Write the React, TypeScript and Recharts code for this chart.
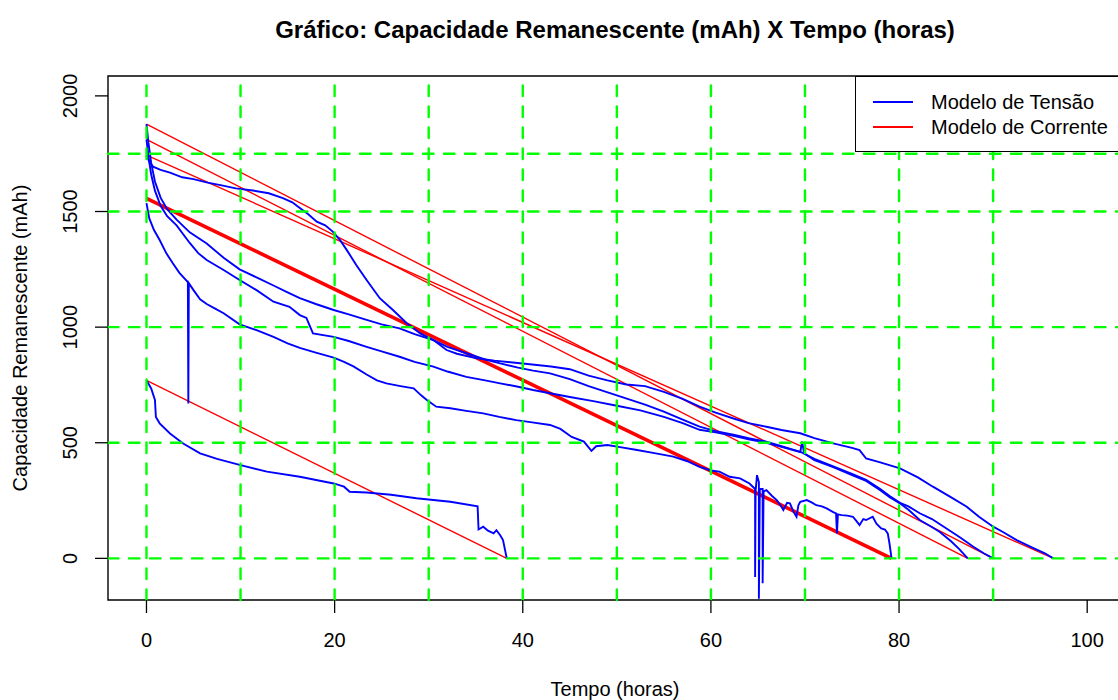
import { LineChart, Line, XAxis, YAxis, ReferenceLine, ReferenceArea, Legend } from 'recharts'

const FONT = '"Liberation Sans", Arial, Helvetica, sans-serif'

// axis ranges (R style: 4% padding around the data)
const X_MIN = -4.09
const X_MAX = 103.7
const Y_MIN = -180
const Y_MAX = 2086

const xTicks = [0, 20, 40, 60, 80, 100]
const yTicks = [0, 500, 1000, 1500, 2000]
const gridX = [0, 10, 20, 30, 40, 50, 60, 70, 80, 90]
const gridY = [0, 500, 1000, 1500, 1750]

// Modelo de Tensão -- [tempo (h), capacidade (mAh)]
const tensao1: [number, number][] = [
  [0, 1744], [0.3, 1715], [0.7, 1694], [1.5, 1680], [2.5, 1668], [3.8, 1648], [5, 1640], [6.5, 1625],
  [8, 1613], [9.5, 1600], [11.3, 1591], [13, 1579], [14.5, 1558], [15.5, 1540], [16.3, 1515], [17.2, 1488],
  [18.1, 1456], [19, 1440], [19.8, 1413], [20.6, 1375], [21.3, 1333], [22.3, 1269], [23.4, 1204], [24.8, 1125],
  [26.2, 1074], [27.7, 1016], [29.1, 973], [30.5, 944], [31.9, 901], [33, 885], [35, 866], [37, 855],
  [40, 843], [43, 830], [45, 818], [47, 790], [49, 770], [51, 752], [53, 745], [55, 720], [57, 690],
  [58.8, 656], [60.5, 630], [62.4, 605], [64, 585], [65.9, 569], [67.5, 555], [69.5, 541], [71, 520],
  [73, 497], [75, 478], [75.8, 468], [76.5, 432], [78, 415], [80.1, 389], [82, 350], [83.6, 310],
  [85.5, 265], [87.2, 223], [88.5, 180], [90, 137], [91, 115], [92.5, 79], [94, 50], [95.5, 22], [96.4, 0],
]

const tensao2: [number, number][] = [
  [0, 1878], [0.2, 1800], [0.5, 1710], [0.9, 1630], [1.5, 1560], [2.2, 1510], [3.2, 1465], [4.6, 1410],
  [6.4, 1362], [8.2, 1300], [9.9, 1250], [11.7, 1215], [13.5, 1180], [15, 1150], [16.3, 1125], [18, 1100],
  [19.9, 1074], [21.5, 1055], [23.4, 1031], [25, 1012], [26.9, 995], [28.5, 970], [30.5, 944], [32, 915],
  [34, 887], [36, 860], [37.6, 843], [39.5, 825], [41.1, 812], [42.9, 800], [45, 775], [47, 745],
  [50, 705], [53, 665], [55, 635], [57, 600], [58.8, 570], [60.5, 550], [62.4, 535], [64, 520],
  [65.9, 505], [67.5, 485], [69.5, 461], [71, 430], [73, 398], [75, 365], [76.5, 340], [78, 300],
  [79, 270], [80.1, 240], [81, 225], [82.2, 195], [83.5, 170], [85, 130], [86.5, 90], [87.9, 50],
  [89, 22], [90, 0],
]

const tensao3: [number, number][] = [
  [0, 1812], [0.2, 1740], [0.5, 1660], [0.9, 1590], [1.5, 1525], [2.2, 1480], [3.2, 1440], [4.6, 1364],
  [5.5, 1320], [6.4, 1290], [8.2, 1247], [9.9, 1204], [11.7, 1160], [13.5, 1110], [15.2, 1088], [16.3, 1052],
  [17, 1040], [17.7, 973], [19.9, 958], [21.5, 940], [23.4, 915], [25, 895], [26.9, 872], [28.5, 850],
  [30.5, 829], [32, 808], [34, 785], [36, 770], [37.6, 757], [39.5, 742], [41.1, 728], [42.9, 714],
  [45, 698], [47.5, 680], [50, 660], [52.5, 640], [55, 612], [57, 585], [58.8, 556], [60.5, 545],
  [62.4, 530], [64, 515], [65.9, 500], [67.5, 482], [69.5, 460], [69.7, 505], [69.9, 455], [71, 425],
  [73, 395], [75, 360], [76.5, 335], [78, 295], [79, 265], [80.1, 238], [81, 210], [82.2, 166],
  [83.3, 140], [84.3, 115], [85.5, 75], [86.4, 40], [87.3, 0],
]

const tensao4: [number, number][] = [
  [0, 1536], [0.3, 1470], [0.8, 1420], [1.4, 1377], [2.1, 1320], [2.8, 1276], [3.5, 1235], [4.4, 1195],
  [4.45, 670], [4.5, 1190], [5, 1160], [5.7, 1120], [6.4, 1100], [7.3, 1080], [8.2, 1060], [9.9, 1012],
  [11.7, 987], [13.5, 958], [15, 930], [16.3, 910], [18, 890], [19.9, 868], [21, 850], [22, 830],
  [23.4, 795], [24.5, 770], [25.5, 757], [27, 745], [28.4, 735], [29.2, 705], [29.8, 685], [30.8, 656],
  [32.3, 649], [34, 638], [35.8, 627], [37.5, 612], [39.3, 598], [41, 588], [42.9, 577], [44, 560],
  [45.2, 525], [46.5, 505], [47.3, 465], [47.8, 485], [49, 490], [50.5, 480], [52, 470], [54, 455],
  [56, 440], [57.5, 420], [58.8, 396], [60, 380], [60.9, 375], [62, 353], [63.1, 346], [64.1, 324],
  [64.7, 300], [64.7, -80], [64.75, 290], [64.9, 360], [65.1, 330], [65.1, -175], [65.2, 300], [65.5, 300],
  [65.5, -108], [65.6, 290], [65.9, 295], [66.5, 270], [67, 252], [67.4, 230], [67.7, 209], [68.1, 240],
  [68.4, 238], [68.8, 200], [69.1, 180], [69.3, 230], [69.5, 245], [70.2, 252], [70.8, 240], [71.2, 230],
  [71.8, 225], [72.3, 216], [73, 200], [73.3, 195], [73.4, 108], [73.5, 190], [73.9, 187], [74.5, 185],
  [75.1, 180], [75.5, 160], [75.8, 144], [76.2, 170], [76.5, 166], [77.2, 180], [77.6, 150], [78.1, 130],
  [78.5, 125], [78.8, 108], [79, 60], [79.2, 0],
]

const tensao5: [number, number][] = [
  [0, 770], [0.5, 735], [0.9, 685], [1, 612], [1.4, 584], [2.5, 540], [3.9, 497], [5.7, 454],
  [7.5, 430], [9.9, 404], [12.8, 375], [16.3, 353], [19.9, 324], [21, 310], [21.6, 288], [23.4, 285],
  [26, 275], [28.7, 260], [32.3, 245], [35.2, 225], [35.3, 125], [35.8, 137], [36.3, 120], [36.9, 108],
  [37.2, 122], [37.6, 100], [37.9, 79], [38.3, 0],
]

// Modelo de Corrente -- [tempo (h), capacidade (mAh)]
const corrente1: [number, number][] = [[0, 1744], [96.4, 0]]
const corrente2: [number, number][] = [[0, 1878], [90, 0]]
const corrente3: [number, number][] = [[0, 1812], [87.3, 0]]
const corrente4: [number, number][] = [[0, 1557], [79.2, 0]]
const corrente5: [number, number][] = [[0, 770], [38.3, 0]]

const tensaoSeries = [tensao1, tensao2, tensao3, tensao4, tensao5]
const correnteSeries = [corrente1, corrente2, corrente3, corrente4, corrente5]

const toRows = (pts: [number, number][]) => pts.map(([h, v]) => ({ h, v }))

const YTick = (props: any) => {
  const { x, y, payload } = props
  const bx = x - 18
  return (
    <text x={bx} y={y} transform={`rotate(-90 ${bx} ${y})`} textAnchor="middle"
      fontSize={20} fontFamily={FONT} fill="#000">
      {payload.value}
    </text>
  )
}

const LegendBox = () => (
  <div style={{
    position: 'relative', boxSizing: 'border-box', width: 270, height: 76,
    border: '1.4px solid #000', background: '#fff', fontFamily: FONT, fontSize: 20, color: '#000',
  }}>
    {[['Modelo de Tensão', '#0000ff', 25.7], ['Modelo de Corrente', '#ff0000', 51]].map(([label, color, cy]) => (
      <div key={label as string}>
        <div style={{ position: 'absolute', left: 17, top: (cy as number) - 1.7, width: 40, height: 1.5, background: color as string }} />
        <div style={{ position: 'absolute', left: 75, top: (cy as number) - 11, lineHeight: '20px', whiteSpace: 'nowrap' }}>
          {label}
        </div>
      </div>
    ))}
  </div>
)

export default function App() {
  return (
    <div style={{ position: 'fixed', left: 0, top: 0, width: 1118, height: 700, overflow: 'hidden', background: '#fff' }}>
      <div style={{
        position: 'absolute', left: 615, top: 18, transform: 'translateX(-50%)', whiteSpace: 'nowrap',
        fontFamily: FONT, fontSize: 24, fontWeight: 'bold', lineHeight: '24px',
      }}>
        Gráfico: Capacidade Remanescente (mAh) X Tempo (horas)
      </div>

      <LineChart width={1130} height={700} margin={{ top: 76, right: 8, bottom: 0, left: 8 }}>
        <XAxis type="number" dataKey="h" domain={[X_MIN, X_MAX]} allowDataOverflow ticks={xTicks} interval={0}
          height={100} axisLine={false} tickSize={13} tickMargin={20}
          tickLine={{ stroke: '#000', strokeWidth: 1.3 }}
          tick={{ fill: '#000', fontSize: 20, fontFamily: FONT }} />
        <YAxis type="number" dataKey="v" domain={[Y_MIN, Y_MAX]} allowDataOverflow ticks={yTicks} interval={0}
          width={100} axisLine={false} tickSize={13} tickMargin={0}
          tickLine={{ stroke: '#000', strokeWidth: 1.3 }} tick={<YTick />} />

        {correnteSeries.map((s, i) => (
          <Line key={'c' + i} data={toRows(s)} dataKey="v" type="linear" stroke="#ff0000"
            strokeWidth={i === 3 ? 3.6 : 1.4} dot={false} activeDot={false} isAnimationActive={false} />
        ))}
        {tensaoSeries.map((s, i) => (
          <Line key={'t' + i} data={toRows(s)} dataKey="v" type="linear" stroke="#0000ff"
            strokeWidth={1.9} dot={false} activeDot={false} isAnimationActive={false} />
        ))}

        {gridX.map((x) => (
          <ReferenceLine key={'gx' + x} x={x} stroke="#00ff00" strokeWidth={2.4}
            strokeDasharray="10.5 10.5" strokeLinecap="round" />
        ))}
        {gridY.map((y) => (
          <ReferenceLine key={'gy' + y} y={y} stroke="#00ff00" strokeWidth={2.4}
            strokeDasharray="10.5 10.5" strokeLinecap="round" />
        ))}

        <ReferenceArea x1={X_MIN} x2={X_MAX} y1={Y_MIN} y2={Y_MAX} fill="none" fillOpacity={0}
          stroke="#000" strokeWidth={1.4} />

        <Legend layout="horizontal" verticalAlign="middle" align="center" content={<LegendBox />}
          wrapperStyle={{ left: 855, top: 76, width: 270, height: 76 }} />
      </LineChart>

      <div style={{
        position: 'absolute', left: 615, top: 679, transform: 'translateX(-50%)', whiteSpace: 'nowrap',
        fontFamily: FONT, fontSize: 20, lineHeight: '20px',
      }}>
        Tempo (horas)
      </div>
      <div style={{
        position: 'absolute', left: 20 - 200, top: 338 - 10, width: 400, height: 20, textAlign: 'center',
        transform: 'rotate(-90deg)', fontFamily: FONT, fontSize: 20, lineHeight: '20px', whiteSpace: 'nowrap',
      }}>
        Capacidade Remanescente (mAh)
      </div>
    </div>
  )
}
